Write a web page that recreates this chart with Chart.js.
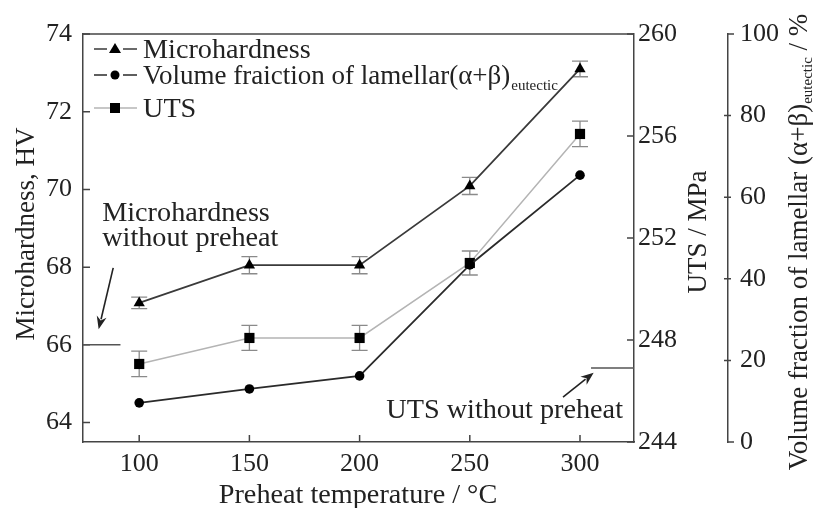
<!DOCTYPE html>
<html>
<head>
<meta charset="utf-8">
<script src="https://cdn.jsdelivr.net/npm/chart.js@4.4.1/dist/chart.umd.min.js"></script>
<style>
  body { margin: 0; background: #fff; }
  canvas { display: block; }
</style>
</head>
<body>
<canvas id="chart" width="815" height="508"></canvas>
<script>
// values
const temps = [100, 150, 200, 250, 300];
const hardness = [67.08, 68.05, 68.05, 70.09, 73.1];
const hardnessErr = [0.15, 0.22, 0.22, 0.22, 0.2];
const volFraction = [9.6, 13.0, 16.2, 43.4, 65.4];
const uts = [247.06, 248.08, 248.08, 251.02, 256.08];
const utsErr = [0.5, 0.49, 0.49, 0.47, 0.5];

const tempTicks = [100, 150, 200, 250, 300];
const hvTicks = [64, 66, 68, 70, 72, 74];
const utsTicks = [244, 248, 252, 256, 260];
const volTicks = [0, 20, 40, 60, 80, 100];

const hardnessNoPreheat = 66;
const utsNoPreheat = 246.9;

const serif = '"Liberation Serif", "Times New Roman", serif';
const chartCanvas = document.getElementById("chart");

function fixWidth(w) {
  return (scale) => { scale.width = w; };
}
function setTicks(vals) {
  return (scale) => { scale.ticks = vals.map((v) => ({ value: v })); };
}

// the original text is a bit wider than Liberation Serif, stretch it a little
function wideText(ctx, txt, x, y, align) {
  const k = 1.045;
  const w = ctx.measureText(txt).width * k;
  let sx = x;
  if (align === "right") sx = x - w;
  if (align === "center") sx = x - w / 2;
  ctx.save();
  ctx.textAlign = "left";
  ctx.translate(sx, y);
  ctx.scale(k, 1);
  ctx.fillText(txt, 0, 0);
  ctx.restore();
  return w;
}

// draws a line, then a filled arrow head at (x2,y2)
function arrow(ctx, x1, y1, x2, y2) {
  const a = Math.atan2(y2 - y1, x2 - x1);
  const len = 13, half = 5;
  ctx.beginPath();
  ctx.moveTo(x1, y1);
  ctx.lineTo(x2 - Math.cos(a) * len * 0.8, y2 - Math.sin(a) * len * 0.8);
  ctx.stroke();
  ctx.beginPath();
  ctx.moveTo(x2, y2);
  ctx.lineTo(x2 - Math.cos(a) * len - Math.sin(a) * half, y2 - Math.sin(a) * len + Math.cos(a) * half);
  ctx.lineTo(x2 - Math.cos(a) * len * 0.7, y2 - Math.sin(a) * len * 0.7);
  ctx.lineTo(x2 - Math.cos(a) * len + Math.sin(a) * half, y2 - Math.sin(a) * len - Math.cos(a) * half);
  ctx.closePath();
  ctx.fill();
}

const errorBars = {
  id: "errorBars",
  beforeDatasetsDraw(chart) {
    const ctx = chart.ctx;
    const x = chart.scales.x;
    ctx.save();
    ctx.strokeStyle = "#8a8a8a";
    ctx.lineWidth = 1.3;
    const sets = [
      [hardness, hardnessErr, chart.scales.yHV],
      [uts, utsErr, chart.scales.yUTS],
    ];
    sets.forEach(([vals, errs, ys]) => {
      vals.forEach((v, i) => {
        const px = x.getPixelForValue(temps[i]);
        const top = ys.getPixelForValue(v + errs[i]);
        const bot = ys.getPixelForValue(v - errs[i]);
        ctx.beginPath();
        ctx.moveTo(px, top); ctx.lineTo(px, bot);
        ctx.moveTo(px - 8, top); ctx.lineTo(px + 8, top);
        ctx.moveTo(px - 8, bot); ctx.lineTo(px + 8, bot);
        ctx.stroke();
      });
    });
    ctx.restore();
  },
};

const decorations = {
  id: "decorations",
  afterDraw(chart) {
    const ctx = chart.ctx;
    const { x, yHV, yUTS, yVol } = chart.scales;
    const area = chart.chartArea;
    ctx.save();
    ctx.strokeStyle = "#444";
    ctx.lineWidth = 1.5;

    // top frame
    ctx.beginPath();
    ctx.moveTo(area.left, area.top);
    ctx.lineTo(area.right, area.top);
    ctx.stroke();

    // inward tick marks
    ctx.beginPath();
    tempTicks.forEach((t) => {
      const px = x.getPixelForValue(t);
      ctx.moveTo(px, area.bottom); ctx.lineTo(px, area.bottom - 7);
    });
    hvTicks.forEach((t) => {
      const py = yHV.getPixelForValue(t);
      ctx.moveTo(area.left, py); ctx.lineTo(area.left + 7, py);
    });
    utsTicks.forEach((t) => {
      const py = yUTS.getPixelForValue(t);
      ctx.moveTo(area.right, py); ctx.lineTo(area.right - 7, py);
    });
    const vx = yVol.left;
    volTicks.forEach((t) => {
      const py = yVol.getPixelForValue(t);
      if (t === 0 || t === 100) {
        ctx.moveTo(vx, py); ctx.lineTo(vx + 6, py);
      } else {
        ctx.moveTo(vx - 4, py); ctx.lineTo(vx + 3, py);
      }
    });
    ctx.stroke();

    // "without preheat" reference lines
    ctx.strokeStyle = "#555";
    ctx.beginPath();
    const hvY = yHV.getPixelForValue(hardnessNoPreheat);
    ctx.moveTo(area.left, hvY); ctx.lineTo(x.getPixelForValue(91.5), hvY);
    const utsY = yUTS.getPixelForValue(utsNoPreheat);
    ctx.moveTo(x.getPixelForValue(305), utsY); ctx.lineTo(area.right, utsY);
    ctx.stroke();

    ctx.strokeStyle = "#222";
    ctx.fillStyle = "#222";
    ctx.lineWidth = 1.6;
    arrow(ctx, x.getPixelForValue(88.2), yHV.getPixelForValue(67.98),
      x.getPixelForValue(81.6), yHV.getPixelForValue(66.4));
    arrow(ctx, x.getPixelForValue(292.3), yUTS.getPixelForValue(245.76),
      x.getPixelForValue(306.2), yUTS.getPixelForValue(246.72));

    // annotation text
    const big = "27px " + serif, small = "15px " + serif;
    ctx.fillStyle = "#222";
    ctx.font = big;
    ctx.textBaseline = "alphabetic";
    wideText(ctx, "Microhardness", x.getPixelForValue(83.2), 221, "left");
    wideText(ctx, "without preheat", x.getPixelForValue(83.2), 246, "left");
    wideText(ctx, "UTS without preheat", x.getPixelForValue(319.5), 418, "right");

    // axis titles
    wideText(ctx, "Preheat temperature / °C", 358, 503, "center");

    ctx.textAlign = "center";
    ctx.save();
    ctx.translate(34, 234);
    ctx.rotate(-Math.PI / 2);
    ctx.fillText("Microhardness, HV", 0, 0);
    ctx.restore();

    ctx.save();
    ctx.translate(706, 232);
    ctx.rotate(-Math.PI / 2);
    ctx.fillText("UTS / MPa", 0, 0);
    ctx.restore();

    // volume fraction title with subscript
    const p1 = "Volume fraction of lamellar (α+β)", p2 = "eutectic", p3 = " / %";
    ctx.font = big;
    const w1 = ctx.measureText(p1).width, w3 = ctx.measureText(p3).width;
    ctx.font = small;
    const w2 = ctx.measureText(p2).width;
    ctx.save();
    ctx.translate(807, 242);
    ctx.rotate(-Math.PI / 2);
    ctx.textAlign = "left";
    let cx = -(w1 + w2 + w3) / 2;
    ctx.font = big; ctx.fillText(p1, cx, 0); cx += w1;
    ctx.font = small; ctx.fillText(p2, cx, 5); cx += w2;
    ctx.font = big; ctx.fillText(p3, cx, 0);
    ctx.restore();

    // legend
    const rows = [
      { ds: chart.data.datasets[0], y: 58, split: true },
      { ds: chart.data.datasets[1], y: 84, split: true, sub: "eutectic" },
      { ds: chart.data.datasets[2], y: 117, split: false },
    ];
    rows.forEach((r) => {
      const my = r.y - 9;
      ctx.strokeStyle = r.ds.borderColor;
      ctx.lineWidth = 1.6;
      ctx.beginPath();
      if (r.split) {
        ctx.moveTo(94, my); ctx.lineTo(107, my);
        ctx.moveTo(123, my); ctx.lineTo(137, my);
      } else {
        ctx.moveTo(94, my); ctx.lineTo(137, my);
      }
      ctx.stroke();
      ctx.fillStyle = "#000";
      ctx.beginPath();
      if (r.ds.pointStyle === "triangle") {
        ctx.moveTo(115, my - 6); ctx.lineTo(121, my + 4); ctx.lineTo(109, my + 4);
        ctx.closePath();
      } else if (r.ds.pointStyle === "circle") {
        ctx.arc(115, my, 4.5, 0, Math.PI * 2);
      } else {
        ctx.rect(110, my - 5, 10, 10);
      }
      ctx.fill();
      ctx.fillStyle = "#222";
      ctx.font = big;
      if (r.sub) {
        // greek glyphs already run wide here, no stretch
        ctx.textAlign = "left";
        ctx.fillText(r.ds.label, 143, r.y);
        const w = ctx.measureText(r.ds.label).width;
        ctx.font = small;
        ctx.fillText(r.sub, 143 + w + 1, r.y + 6);
      } else {
        wideText(ctx, r.ds.label, 143, r.y, "left");
      }
    });
    ctx.restore();
  },
};

const tickFont = { family: serif, size: 26 };

new Chart(chartCanvas, {
  type: "line",
  data: {
    datasets: [
      {
        label: "Microhardness",
        data: temps.map((t, i) => ({ x: t, y: hardness[i] })),
        yAxisID: "yHV",
        borderColor: "#3a3a3a",
        borderWidth: 1.8,
        pointStyle: "triangle",
        pointRadius: 6.5,
        pointBackgroundColor: "#000",
        pointBorderColor: "#000",
        pointBorderWidth: 0,
      },
      {
        label: "Volume fraiction of lamellar(α+β)",
        data: temps.map((t, i) => ({ x: t, y: volFraction[i] })),
        yAxisID: "yVol",
        borderColor: "#2a2a2a",
        borderWidth: 1.8,
        pointStyle: "circle",
        pointRadius: 4.8,
        pointBackgroundColor: "#000",
        pointBorderColor: "#000",
        pointBorderWidth: 0,
      },
      {
        label: "UTS",
        data: temps.map((t, i) => ({ x: t, y: uts[i] })),
        yAxisID: "yUTS",
        borderColor: "#b4b4b4",
        borderWidth: 1.5,
        pointStyle: "rect",
        pointRadius: 7.2,
        pointBackgroundColor: "#000",
        pointBorderColor: "#000",
        pointBorderWidth: 0,
      },
    ],
  },
  options: {
    responsive: false,
    animation: false,
    events: [],
    layout: { padding: { top: 34, left: 0, right: 0, bottom: 0 } },
    plugins: { legend: { display: false }, tooltip: { enabled: false } },
    scales: {
      x: {
        type: "linear",
        min: 74.5,
        max: 324.5,
        afterBuildTicks: setTicks(tempTicks),
        afterFit: (scale) => { scale.height = 66; },
        grid: { display: false, drawTicks: false },
        border: { display: true, color: "#444", width: 1.5 },
        ticks: { font: tickFont, color: "#222", padding: 7 },
      },
      yHV: {
        position: "left",
        min: 63.5,
        max: 74,
        afterBuildTicks: setTicks(hvTicks),
        afterFit: fixWidth(83),
        grid: { display: false, drawTicks: false },
        border: { display: true, color: "#444", width: 1.5 },
        ticks: { font: tickFont, color: "#222", padding: 11 },
      },
      yUTS: {
        position: "right",
        weight: 0,
        min: 244,
        max: 260,
        afterBuildTicks: setTicks(utsTicks),
        afterFit: fixWidth(94),
        grid: { display: false, drawTicks: false },
        border: { display: true, color: "#444", width: 1.5 },
        ticks: { font: tickFont, color: "#222", padding: 4 },
      },
      yVol: {
        position: "right",
        weight: 1,
        min: 0,
        max: 100,
        afterBuildTicks: setTicks(volTicks),
        afterFit: fixWidth(87),
        grid: { display: false, drawTicks: false },
        border: { display: true, color: "#444", width: 1.5 },
        ticks: { font: tickFont, color: "#222", padding: 12 },
      },
    },
  },
  plugins: [errorBars, decorations],
});
</script>
</body>
</html>
